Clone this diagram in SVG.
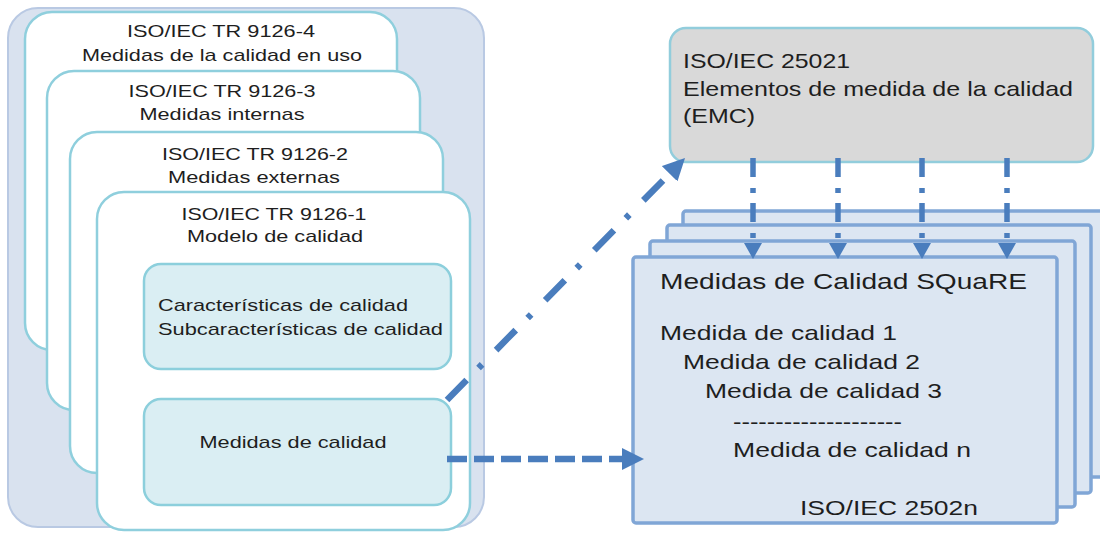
<svg xmlns="http://www.w3.org/2000/svg" width="1100" height="535" viewBox="0 0 1100 535">
<defs>
<style>
text{font-family:"Liberation Sans",Arial,sans-serif;fill:#1e1e1e}
.l{font-size:17px}
.c{text-anchor:middle}
.m{font-size:21px}
.t{font-size:22px}
.outer{fill:#d9e2ef;stroke:#b9c9e3;stroke-width:2}
.card{fill:#ffffff;stroke:#8fcfdd;stroke-width:2.5}
.inner{fill:#daeef3;stroke:#8ccfdc;stroke-width:2.5}
.gray{fill:#d9d9d9;stroke:#92cddc;stroke-width:2.5}
.sheet{fill:#dce6f2;stroke:#80a6d6;stroke-width:3.5}
.conn{fill:none;stroke:#4a7dbd}
</style>
<marker id="ahS" markerUnits="userSpaceOnUse" markerWidth="16" markerHeight="18" viewBox="0 0 16 18" refX="0" refY="9" orient="auto"><path d="M0,0 L16,9 L0,18 z" fill="#4a7dbd"/></marker>
<marker id="ahL" markerUnits="userSpaceOnUse" markerWidth="22" markerHeight="22" viewBox="0 0 22 22" refX="0" refY="11" orient="auto"><path d="M0,0 L22,11 L0,22 z" fill="#4a7dbd"/></marker>
</defs>
<rect width="1100" height="535" fill="#ffffff"/>

<g id="container">
<rect class="outer" x="8" y="8" width="476" height="519" rx="30"/>
</g>

<g id="card4">
<rect class="card" x="25" y="12" width="372" height="338" rx="27"/>
<text class="l c" x="221" y="37" textLength="188" lengthAdjust="spacingAndGlyphs">ISO/IEC TR 9126-4</text>
<text class="l c" x="222" y="61" textLength="280" lengthAdjust="spacingAndGlyphs">Medidas de la calidad en uso</text>
</g>

<g id="card3">
<rect class="card" x="47" y="71" width="373" height="339" rx="27"/>
<text class="l c" x="222" y="97" textLength="187" lengthAdjust="spacingAndGlyphs">ISO/IEC TR 9126-3</text>
<text class="l c" x="222" y="120" textLength="165" lengthAdjust="spacingAndGlyphs">Medidas internas</text>
</g>

<g id="card2">
<rect class="card" x="70" y="132" width="373" height="341" rx="27"/>
<text class="l c" x="255" y="160" textLength="186" lengthAdjust="spacingAndGlyphs">ISO/IEC TR 9126-2</text>
<text class="l c" x="254" y="183" textLength="172" lengthAdjust="spacingAndGlyphs">Medidas externas</text>
</g>

<g id="card1">
<rect class="card" x="97" y="192" width="373" height="338" rx="27"/>
<text class="l c" x="274" y="220" textLength="185" lengthAdjust="spacingAndGlyphs">ISO/IEC TR 9126-1</text>
<text class="l c" x="275" y="242" textLength="176" lengthAdjust="spacingAndGlyphs">Modelo de calidad</text>
</g>

<g id="caracteristicas">
<rect class="inner" x="144" y="264" width="307" height="105" rx="17"/>
<text class="l" x="158" y="311" textLength="250" lengthAdjust="spacingAndGlyphs">Características de calidad</text>
<text class="l" x="158" y="335" textLength="285" lengthAdjust="spacingAndGlyphs">Subcaracterísticas de calidad</text>
</g>

<g id="medidas">
<rect class="inner" x="144" y="399" width="307" height="106" rx="17"/>
<text class="l c" x="293" y="448" textLength="187" lengthAdjust="spacingAndGlyphs">Medidas de calidad</text>
</g>

<g id="emc">
<rect class="gray" x="670" y="28" width="423" height="134" rx="16"/>
<text class="m" x="683" y="68" textLength="167" lengthAdjust="spacingAndGlyphs">ISO/IEC 25021</text>
<text class="m" x="683" y="96" textLength="390" lengthAdjust="spacingAndGlyphs">Elementos de medida de la calidad</text>
<text class="m" x="683" y="123" textLength="72" lengthAdjust="spacingAndGlyphs">(EMC)</text>
</g>

<g id="square">
<rect class="sheet" x="683" y="211" width="424" height="266" rx="3"/>
<rect class="sheet" x="667" y="225" width="424" height="268" rx="3"/>
<rect class="sheet" x="650" y="241" width="425" height="266" rx="3"/>
<rect class="sheet" x="633" y="257" width="424" height="266" rx="3"/>
<text class="t" x="660" y="289" textLength="367" lengthAdjust="spacingAndGlyphs">Medidas de Calidad SQuaRE</text>
<text class="m" x="660" y="340" textLength="237" lengthAdjust="spacingAndGlyphs">Medida de calidad 1</text>
<text class="m" x="683" y="369" textLength="237" lengthAdjust="spacingAndGlyphs">Medida de calidad 2</text>
<text class="m" x="705" y="398" textLength="237" lengthAdjust="spacingAndGlyphs">Medida de calidad 3</text>
<text class="m" x="733" y="429" textLength="169" lengthAdjust="spacingAndGlyphs">--------------------</text>
<text class="m" x="733" y="457" textLength="238" lengthAdjust="spacingAndGlyphs">Medida de calidad n</text>
<text class="m" x="800" y="515" textLength="178" lengthAdjust="spacingAndGlyphs">ISO/IEC 2502n</text>
</g>

<g id="connectors">
<line class="conn" x1="447" y1="400" x2="669.6" y2="173.7" stroke-width="6.5" stroke-dasharray="28 17 5 20" marker-end="url(#ahL)"/>
<line class="conn" x1="447" y1="459" x2="622" y2="459" stroke-width="6.5" stroke-dasharray="20 7" marker-end="url(#ahL)"/>
<line class="conn" x1="753" y1="158" x2="753" y2="243" stroke-width="5.5" stroke-dasharray="19 11 5 10" marker-end="url(#ahS)"/>
<line class="conn" x1="838" y1="158" x2="838" y2="243" stroke-width="5.5" stroke-dasharray="19 11 5 10" marker-end="url(#ahS)"/>
<line class="conn" x1="922" y1="158" x2="922" y2="243" stroke-width="5.5" stroke-dasharray="19 11 5 10" marker-end="url(#ahS)"/>
<line class="conn" x1="1007" y1="158" x2="1007" y2="243" stroke-width="5.5" stroke-dasharray="19 11 5 10" marker-end="url(#ahS)"/>
</g>
</svg>
